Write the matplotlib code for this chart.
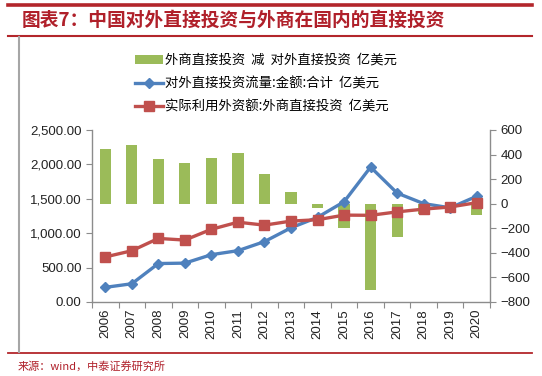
import matplotlib
matplotlib.use("Agg")
import matplotlib.pyplot as plt
from matplotlib.lines import Line2D
from matplotlib.patches import Patch
from matplotlib.ticker import FuncFormatter, FixedLocator
import numpy as np

plt.rcParams['font.family'] = ['Noto Sans CJK SC', 'DejaVu Sans']

years = ["2006", "2007", "2008", "2009", "2010", "2011", "2012", "2013",
         "2014", "2015", "2016", "2017", "2018", "2019", "2020"]
fdi_minus_odi = [442, 481, 364, 335, 369, 414, 239, 98, -35, -194, -701, -272, -81, 12, -93]
odi_flow = [213, 265, 559, 565, 688, 746, 878, 1078, 1231, 1457, 1961, 1583, 1430, 1369, 1537]
fdi_actual = [655, 745, 924, 900, 1057, 1160, 1117, 1176, 1196, 1263, 1260, 1310, 1350, 1381, 1444]

label_bar = "外商直接投资  减  对外直接投资  亿美元"
label_odi = "对外直接投资流量:金额:合计  亿美元"
label_fdi = "实际利用外资额:外商直接投资  亿美元"
title = "图表7：中国对外直接投资与外商在国内的直接投资"
source = "来源：wind，中泰证券研究所"

W, H = 542, 376
fig = plt.figure(figsize=(W / 100, H / 100), dpi=100)
fig.patch.set_facecolor("white")

green = "#9BBB59"
blue = "#4F81BD"
red = "#C0504D"
frame_red = "#B3262B"
gray = "#8C8C8C"

def fx(px):
    return px / W

def fy(py):
    return 1 - py / H

# frame lines
fig.add_artist(Line2D([fx(8), fx(532)], [fy(5), fy(5)], color=frame_red, lw=2.6))
fig.add_artist(Line2D([fx(8), fx(532)], [fy(36), fy(36)], color=frame_red, lw=1.5))
fig.add_artist(Line2D([fx(8), fx(532)], [fy(352.5), fy(352.5)], color=frame_red, lw=1.3))
fig.add_artist(Line2D([fx(18.5), fx(18.5)], [fy(37), fy(352)], color="#A6A6A6", lw=1.5))

fig.text(fx(22), fy(20), title, color="#B0202A", fontsize=13.5, fontweight="bold",
         va="center", ha="left")
fig.text(fx(18), fy(366), source, color="#B0202A", fontsize=8, va="center", ha="left")

ax = fig.add_axes([fx(92), fy(302), fx(490) - fx(92), fy(130) - fy(302)])
ax2 = ax.twinx()
ax.set_zorder(ax2.get_zorder() + 1)
ax.patch.set_visible(False)

x = np.arange(len(years))
ax2.bar(x, fdi_minus_odi, width=0.42, color=green, zorder=2)
ax.plot(x, odi_flow, color=blue, lw=2.4, marker="D", markersize=5.5, zorder=3)
ax.plot(x, fdi_actual, color=red, lw=2.4, marker="s", markersize=7, zorder=4)

ax.set_xlim(-0.5, len(years) - 0.5)
ax.set_ylim(0, 2500)
ax2.set_ylim(-800, 600)
ax.set_yticks(np.arange(0, 2501, 500))
ax2.set_yticks(np.arange(-800, 601, 200))
ax.yaxis.set_major_formatter(FuncFormatter(lambda v, p: f"{v:,.2f}"))

ax.xaxis.set_major_locator(FixedLocator(np.arange(-0.5, len(years), 1.0)))
ax.xaxis.set_minor_locator(FixedLocator(x))
ax.set_xticklabels([], minor=False)
ax.set_xticklabels(years, minor=True, rotation=90)
ax.tick_params(axis="x", which="major", length=4, color=gray, direction="out")
ax.tick_params(axis="x", which="minor", length=0, pad=5, labelsize=9.5, labelcolor="#222222")

tick_font = "Liberation Sans"
for lab in ax.get_xticklabels(minor=True):
    lab.set_family(tick_font)
ax.tick_params(axis="y", length=4, color=gray, labelsize=9.5, labelcolor="#222222")
ax2.tick_params(axis="y", length=4, color=gray, labelsize=9.5, labelcolor="#222222")
for lab in ax.get_yticklabels() + ax2.get_yticklabels():
    lab.set_family(tick_font)

for a in (ax, ax2):
    a.spines["top"].set_visible(False)
    for s in ("left", "right", "bottom"):
        a.spines[s].set_color(gray)
        a.spines[s].set_linewidth(1.0)
ax.spines["right"].set_visible(False)
ax2.spines["left"].set_visible(False)
ax2.spines["bottom"].set_visible(False)

handles = [
    Patch(facecolor=green, edgecolor="none"),
    Line2D([], [], color=blue, lw=2.4, marker="D", markersize=5.5),
    Line2D([], [], color=red, lw=2.4, marker="s", markersize=7),
]
fig.legend(handles, [label_bar, label_odi, label_fdi], loc="upper left",
           bbox_to_anchor=(fx(135), fy(53)), frameon=False, fontsize=9.6,
           handlelength=2.1, handletextpad=0.15, labelspacing=0.7,
           borderpad=0, borderaxespad=0, markerscale=1.0)

fig.savefig("out.png", dpi=100, facecolor="white")
